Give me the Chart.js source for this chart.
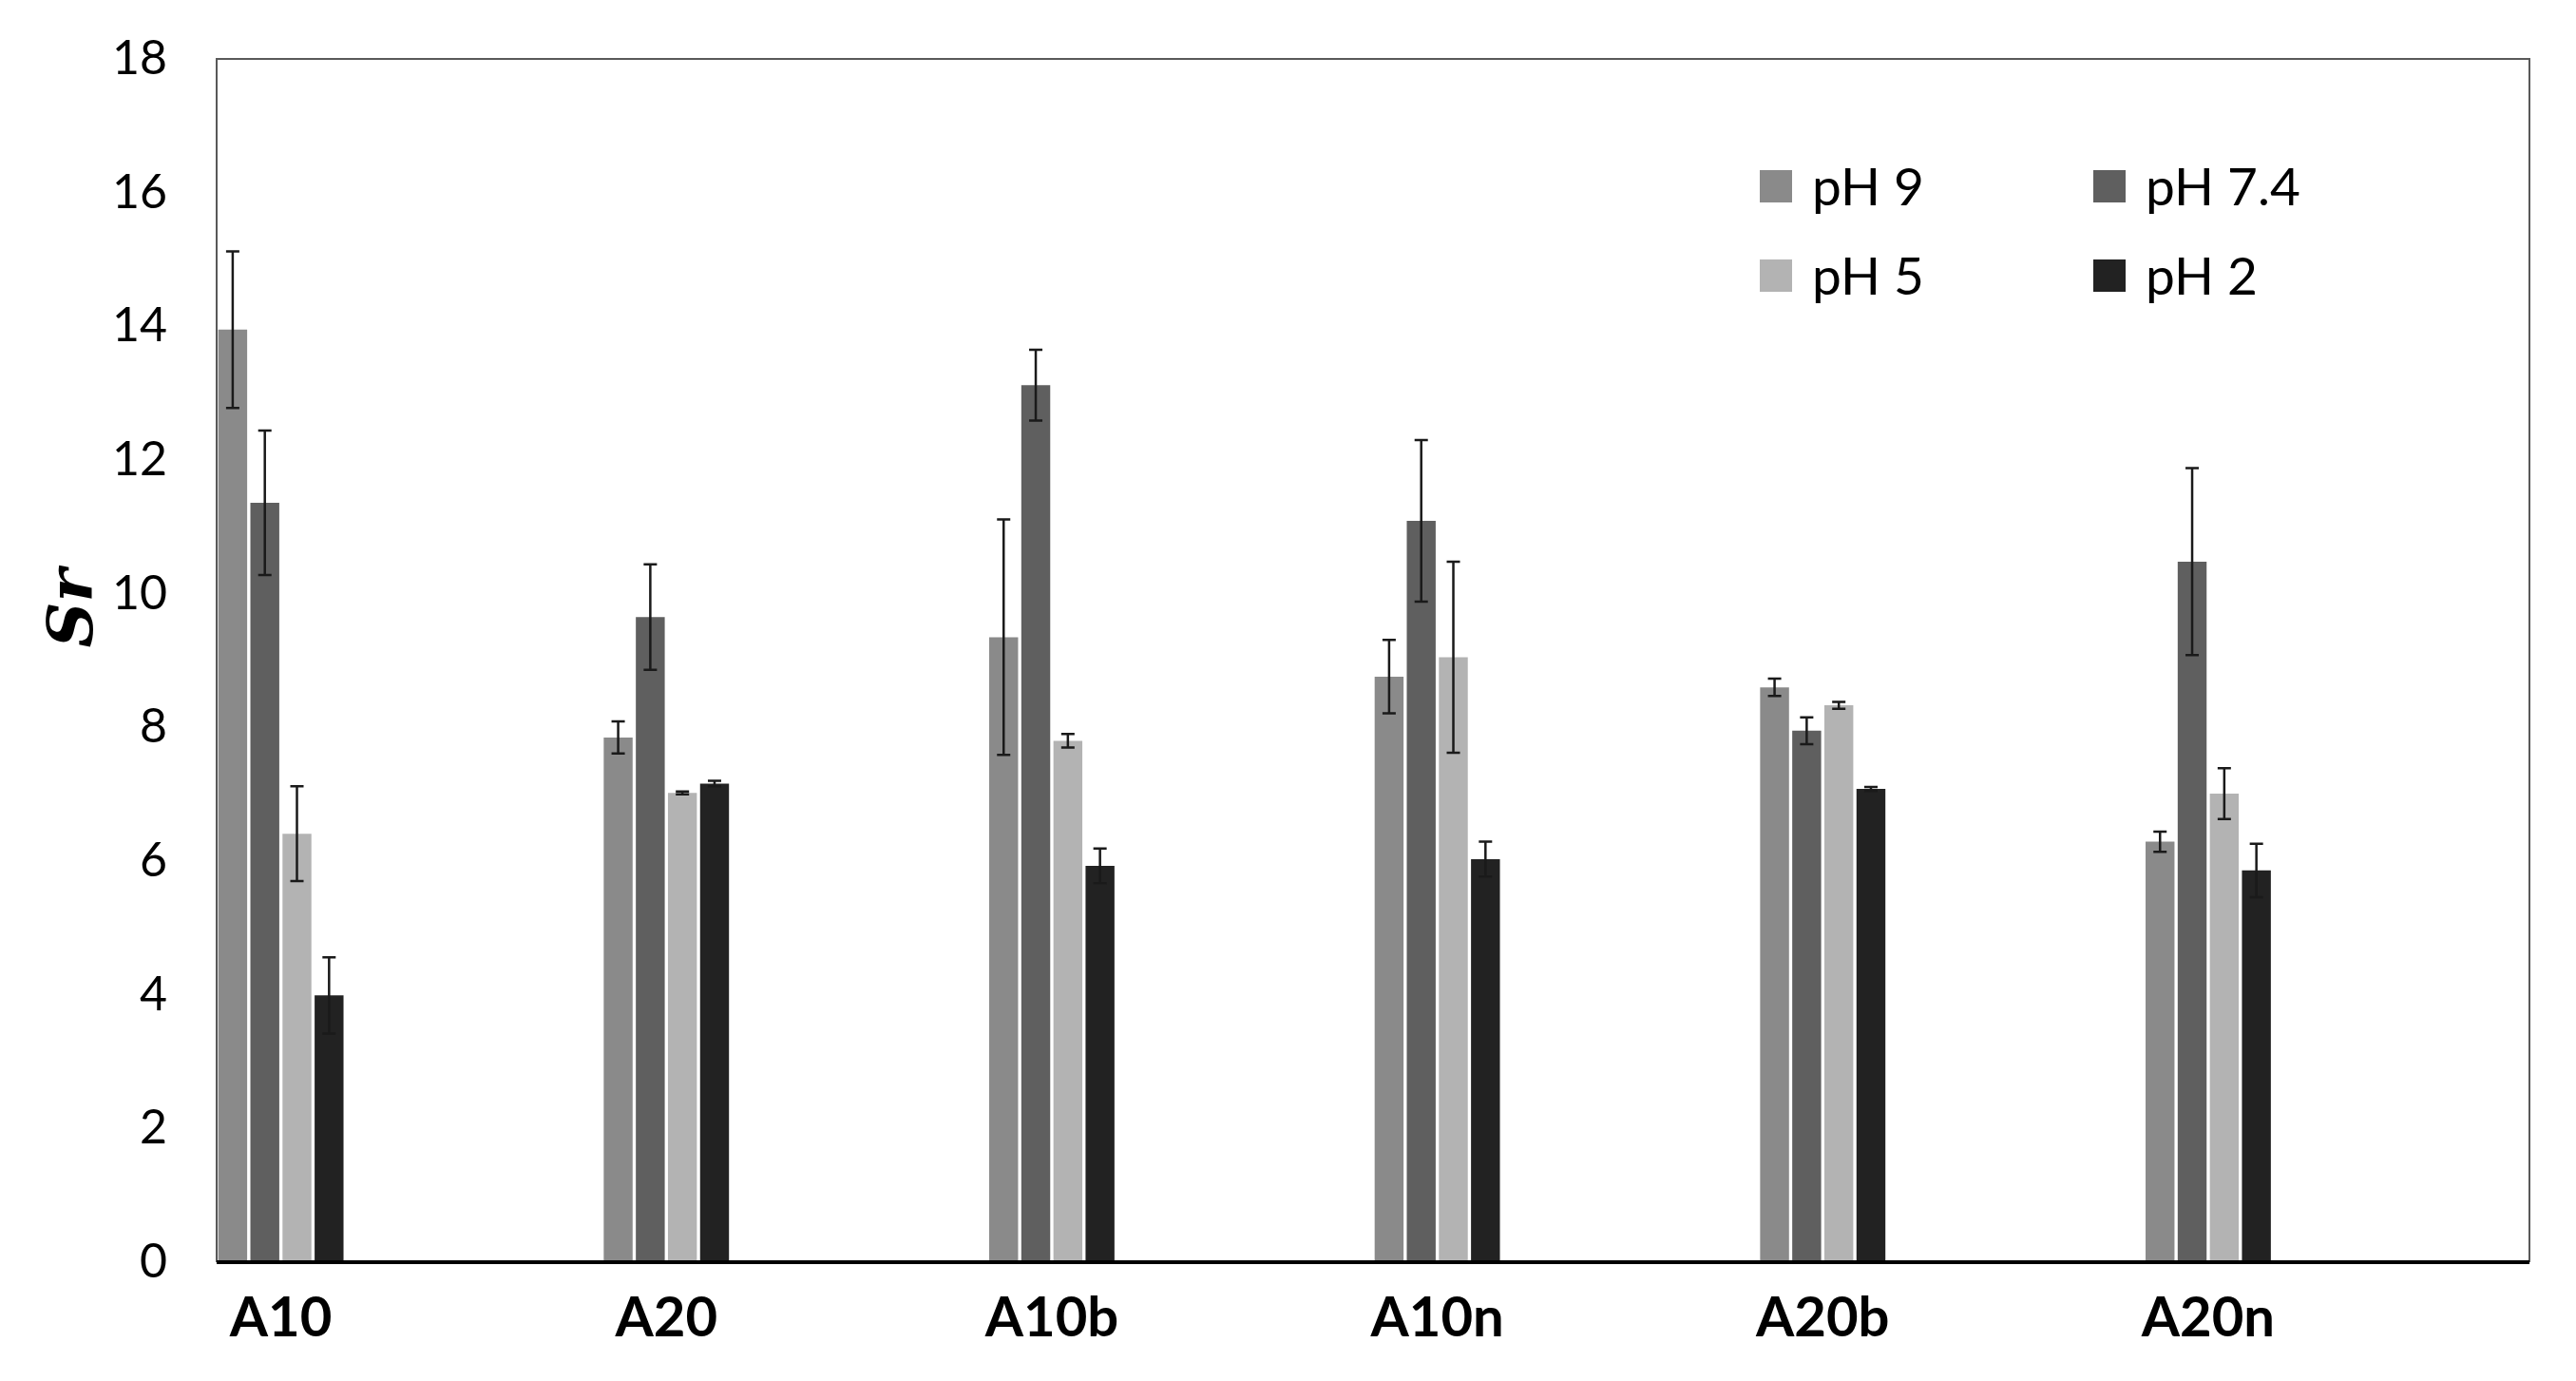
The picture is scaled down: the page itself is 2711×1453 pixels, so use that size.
<!DOCTYPE html>
<html>
<head>
<meta charset="utf-8">
<script src="https://cdn.jsdelivr.net/npm/chart.js@4.4.1/dist/chart.umd.min.js"></script>
<style>
  html, body { margin: 0; padding: 0; background: #fff; }
  #wrap { width: 2711px; height: 1453px; }
</style>
</head>
<body>
<div id="wrap"><canvas id="myChart" width="2711" height="1453"></canvas></div>
<script>
// samples and pH series
var samples = ['A10', 'A20', 'A10b', 'A10n', 'A20b', 'A20n'];
var seriesNames = ['pH 9', 'pH 7.4', 'pH 5', 'pH 2'];
var seriesColors = ['#8a8a8a', '#5f5f5f', '#b3b3b3', '#222222'];

var ph9 = [13.95, 7.85, 9.35, 8.76, 8.60, 6.29];
var ph74 = [11.36, 9.65, 13.12, 11.09, 7.95, 10.48];
var ph5 = [6.41, 7.02, 7.80, 9.05, 8.33, 7.01];
var ph2 = [3.99, 7.16, 5.93, 6.03, 7.08, 5.86];

// error (+/-)
var ph9Err = [1.17, 0.24, 1.76, 0.55, 0.13, 0.15];
var ph74Err = [1.08, 0.79, 0.53, 1.21, 0.20, 1.40];
var ph5Err = [0.71, 0.02, 0.10, 1.43, 0.05, 0.38];
var ph2Err = [0.57, 0.04, 0.26, 0.26, 0.03, 0.40];

var yTicks = [0, 2, 4, 6, 8, 10, 12, 14, 16, 18];
var yTitle = 'Sr';

// each sample takes the first third of its slot, so spread over 3 sub slots
function spread(arr) {
    var out = [];
    arr.forEach(function(v) { out.push(v, null, null); });
    return out;
}

var values = [ph9, ph74, ph5, ph2];
var errors = [ph9Err, ph74Err, ph5Err, ph2Err];

var datasets = seriesNames.map(function(name, i) {
    return {
        label: name,
        data: spread(values[i]),
        errs: spread(errors[i]),
        backgroundColor: seriesColors[i],
        borderWidth: 0,
        barPercentage: 0.9,
        categoryPercentage: 1.0
    };
});

// error bars
var errorBars = {
    id: 'errorBars',
    afterDatasetsDraw: function(chart) {
        var ctx = chart.ctx, y = chart.scales.y;
        ctx.save();
        ctx.strokeStyle = '#1a1a1a';
        ctx.lineWidth = 2.5;
        chart.data.datasets.forEach(function(ds, di) {
            var meta = chart.getDatasetMeta(di);
            meta.data.forEach(function(bar, j) {
                var v = ds.data[j], e = ds.errs[j];
                if (v === null || e === null) return;
                var top = y.getPixelForValue(v + e), bot = y.getPixelForValue(v - e);
                var cap = 7;
                ctx.beginPath();
                ctx.moveTo(bar.x, top); ctx.lineTo(bar.x, bot);
                ctx.moveTo(bar.x - cap, top); ctx.lineTo(bar.x + cap, top);
                ctx.moveTo(bar.x - cap, bot); ctx.lineTo(bar.x + cap, bot);
                ctx.stroke();
            });
        });
        ctx.restore();
    }
};

// plot frame, y title + legend inside the plot
var frameLegend = {
    id: 'frameLegend',
    afterDraw: function(chart) {
        var ctx = chart.ctx, a = chart.chartArea;
        ctx.save();
        ctx.strokeStyle = '#595959';
        ctx.lineWidth = 2;
        ctx.beginPath();
        ctx.moveTo(a.left, a.bottom); ctx.lineTo(a.left, a.top);
        ctx.lineTo(a.right, a.top); ctx.lineTo(a.right, a.bottom);
        ctx.stroke();
        ctx.strokeStyle = '#000';
        ctx.lineWidth = 4;
        ctx.beginPath();
        ctx.moveTo(a.left, a.bottom); ctx.lineTo(a.right, a.bottom);
        ctx.stroke();

        // y title
        ctx.save();
        ctx.translate(80, 640);
        ctx.rotate(-Math.PI / 2);
        ctx.font = 'italic bold 66px "DejaVu Serif"';
        ctx.textAlign = 'center';
        ctx.textBaseline = 'middle';
        ctx.fillStyle = '#000';
        ctx.fillText(yTitle, 0, 0);
        ctx.restore();

        ctx.font = '55px Lato';
        ctx.textBaseline = 'middle';
        var colX = [1852, 2203], rowY = [196, 290], box = 34;
        chart.data.datasets.forEach(function(ds, i) {
            var x = colX[i % 2], yy = rowY[Math.floor(i / 2)];
            ctx.fillStyle = ds.backgroundColor;
            ctx.fillRect(x, yy - box / 2, box, box);
            ctx.fillStyle = '#000';
            ctx.fillText(ds.label, x + 55, yy + 2);
        });
        ctx.restore();
    }
};

var ctx = document.getElementById('myChart').getContext('2d');
var myChart = new Chart(ctx, {
    type: 'bar',
    data: {
        labels: spread(samples).map(function(s) { return s === null ? '' : s; }),
        datasets: datasets
    },
    options: {
        responsive: false,
        animation: false,
        layout: { padding: { top: 62, right: 49, left: 0, bottom: 0 } },
        plugins: {
            legend: { display: false },
            tooltip: { enabled: false }
        },
        scales: {
            x: {
                grid: { display: false, drawTicks: false },
                border: { display: false },
                ticks: {
                    autoSkip: false, maxRotation: 0, color: '#000', padding: 24,
                    font: { family: 'Lato', size: 58, weight: 'bold' }
                },
                afterFit: function(s) { s.height = 125; s.paddingLeft = 0; s.paddingRight = 0; }
            },
            y: {
                min: 0, max: 18,
                grid: { display: false, drawTicks: false },
                border: { display: false },
                afterBuildTicks: function(s) {
                    s.ticks = yTicks.map(function(v) { return { value: v }; });
                },
                ticks: {
                    color: '#000', padding: 52,
                    font: { family: 'Lato', size: 50 }
                },
                afterFit: function(s) { s.width = 228; s.paddingTop = 0; s.paddingBottom = 0; }
            }
        }
    },
    plugins: [errorBars, frameLegend]
});
</script>
</body>
</html>
